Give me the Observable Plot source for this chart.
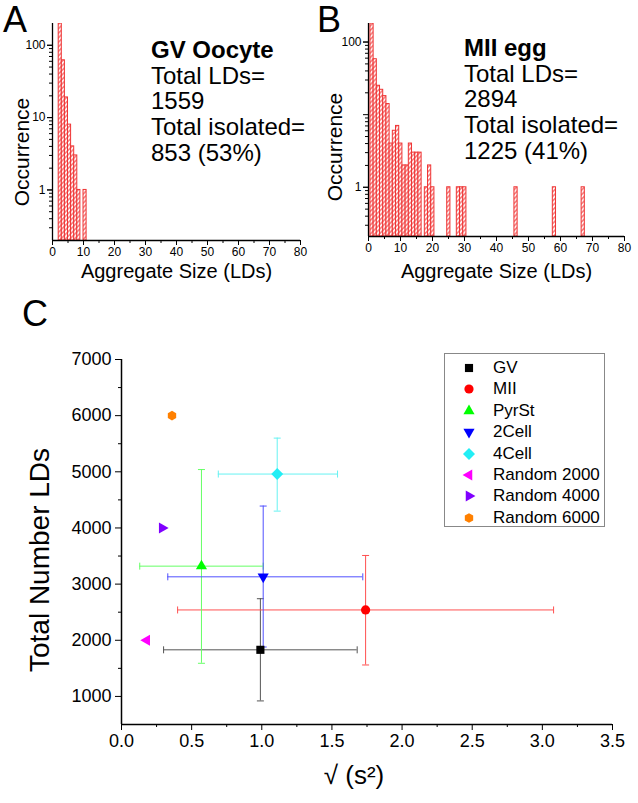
<!DOCTYPE html>
<html><head><meta charset="utf-8">
<script src="https://cdn.jsdelivr.net/npm/d3@7"></script>
<script src="https://cdn.jsdelivr.net/npm/@observablehq/plot@0.6"></script>
<style>
body{margin:0;background:#fff;font-family:"Liberation Sans",Arial,sans-serif;}
#root{position:relative;width:638px;height:803px;overflow:hidden;background:#fff;}
.letter{position:absolute;font-size:36px;line-height:1;color:#000;}
.note{position:absolute;font-size:24px;line-height:25.7px;color:#000;white-space:nowrap;}
.legend{position:absolute;border:1px solid #888;background:#fff;box-sizing:border-box;}
.legend .row{position:absolute;left:0;height:20px;display:flex;align-items:center;font-size:17px;white-space:nowrap;}
</style></head><body><div id="root"></div>
<script>
// ---------- data ----------
// Panel A: GV oocyte aggregate-size histogram
const gvSizes  = [2, 3, 4, 5, 6, 7, 8, 10];
const gvCounts = [200, 62, 19, 8, 4, 3, 1, 1];
// Panel B: MII egg aggregate-size histogram
const miiSizes  = [2, 3, 4, 5, 6, 7, 8, 9, 10, 11, 12, 13, 14, 15, 16, 17, 19, 20, 21, 26, 29, 30, 31, 47, 59, 68];
const miiCounts = [180, 58, 25, 22, 18, 14, 4, 6, 7, 4, 2, 2, 4, 3, 3, 3, 1, 2, 1, 1, 1, 1, 1, 1, 1, 1];
const histXTicks = [0, 10, 20, 30, 40, 50, 60, 70, 80];
const histXMinor = [5, 15, 25, 35, 45, 55, 65, 75];
const histYTicks = [1, 10, 100];
const histYLabelsA = [1, 10, 100];
const histYLabelsB = [1, 100];
const histYMinor = [0.3,0.4,0.5,0.6,0.7,0.8,0.9,2,3,4,5,6,7,8,9,20,30,40,50,60,70,80,90];

// Panel C: total LDs vs sqrt(s^2)
const groups = ["GV", "MII", "PyrSt", "2Cell", "4Cell", "Random 2000", "Random 4000", "Random 6000"];
const xMean  = [0.99, 1.74, 0.57, 1.01, 1.11, 0.18, 0.29, 0.36];
const yMean  = [1830, 2540, 3320, 3130, 4960, 2000, 4000, 6000];
const xLow   = [0.30, 0.40, 0.13, 0.33, 0.69, null, null, null];
const xHigh  = [1.68, 3.08, 1.01, 1.72, 1.54, null, null, null];
const yLow   = [920, 1560, 1590, 1880, 4300, null, null, null];
const yHigh  = [2740, 3510, 5040, 4390, 5600, null, null, null];
const cXTicks = [0, 0.5, 1, 1.5, 2, 2.5, 3, 3.5];
const cXMinor = [0.25, 0.75, 1.25, 1.75, 2.25, 2.75, 3.25];
const cYTicks = [1000, 2000, 3000, 4000, 5000, 6000, 7000];
const cYMinor = [1500, 2500, 3500, 4500, 5500, 6500];

// ---------- styles ----------
const FONT = '"Liberation Sans", Arial, sans-serif';
const colors   = ["#000000", "#ff0000", "#00ff00", "#0000ff", "#22eef5", "#ff00ff", "#8000ff", "#ff8000"];
const errColor = ["#555555", "#ff5050", "#66ff66", "#5050ff", "#66f2f2", null, null, null];

function poly(n, rot, scale) {
  return {draw(ctx, size) {
    const r = Math.sqrt(size / Math.PI) * scale;
    for (let k = 0; k < n; k++) {
      const a = rot + 2 * Math.PI * k / n;
      const x = r * Math.cos(a), y = r * Math.sin(a);
      if (k) ctx.lineTo(x, y); else ctx.moveTo(x, y);
    }
    ctx.closePath();
  }};
}
const circleSym = {draw(ctx, size) { const r = Math.sqrt(size / Math.PI); ctx.moveTo(r, 0); ctx.arc(0, 0, r, 0, 2 * Math.PI); }};
const symbols = [
  poly(4, Math.PI / 4, 1.25),   // square
  circleSym,                    // circle
  poly(3, -Math.PI / 2, 1.4),   // triangle up
  poly(3, Math.PI / 2, 1.4),    // triangle down
  poly(4, 0, 1.3),              // diamond
  poly(3, Math.PI, 1.4),        // triangle left
  poly(3, 0, 1.4),              // triangle right
  poly(6, Math.PI / 2, 1.05)    // hexagon
];
const hCap = {draw(ctx, size) { const r = Math.sqrt(size / Math.PI); ctx.moveTo(-r, 0); ctx.lineTo(r, 0); }};
const vCap = {draw(ctx, size) { const r = Math.sqrt(size / Math.PI); ctx.moveTo(0, -r); ctx.lineTo(0, r); }};

const root = document.getElementById("root");
function place(el, left, top) { el.style.position = "absolute"; el.style.left = left + "px"; el.style.top = top + "px"; root.appendChild(el); return el; }
function addHatch(svg, id) {
  const ns = "http://www.w3.org/2000/svg";
  const defs = document.createElementNS(ns, "defs");
  defs.innerHTML = `<pattern id="${id}" patternUnits="userSpaceOnUse" width="3.2" height="3.2" patternTransform="rotate(45)"><rect width="3.2" height="3.2" fill="#fff2f2"/><line x1="0.8" y1="0" x2="0.8" y2="3.2" stroke="#f36a6a" stroke-width="1.3"/></pattern>`;
  svg.insertBefore(defs, svg.firstChild);
}

function histogram({sizes, counts, bin, yDomain, yLabels, width, height, margin, id, yTitle, xTitle}) {
  const rows = sizes.map((s, i) => ({size: s, count: counts[i]}));
  const svg = Plot.plot({
    width, height, ...margin,
    style: {fontFamily: FONT, fontSize: "12px", color: "#000", background: "transparent", overflow: "visible"},
    x: {domain: [0, 80]},
    y: {type: "log", domain: yDomain},
    marks: [
      Plot.rectY(rows, {x1: d => d.size + bin[0], x2: d => d.size + bin[1], y1: () => yDomain[0], y2: "count",
        fill: `url(#${id})`, stroke: "#ef3434", strokeWidth: 1, clip: true}),
      Plot.ruleX([0], {stroke: "#000", strokeWidth: 1.3}),
      Plot.ruleY([yDomain[0]], {stroke: "#000", strokeWidth: 1.3}),
      Plot.axisX(histXTicks, {tickSize: 5, tickPadding: 2, fontSize: 12, label: null, tickFormat: d => String(d)}),
      Plot.axisX(histXMinor, {tickSize: 3, text: null, label: null}),
      Plot.axisY(histYTicks, {tickSize: 5, text: null, label: null}),
      Plot.axisY(yLabels, {tickSize: 5, tickPadding: 2, fontSize: 12, label: null, tickFormat: d => String(d)}),
      Plot.axisY(histYMinor, {tickSize: 3, text: null, label: null}),
      Plot.text([yTitle.text], {frameAnchor: "left", textAnchor: "middle", lineAnchor: "middle", rotate: -90, dx: yTitle.dx, dy: yTitle.dy, fontSize: 21}),
      Plot.text([xTitle.text], {frameAnchor: "bottom", textAnchor: "middle", lineAnchor: "middle", dx: xTitle.dx, dy: xTitle.dy, fontSize: 20})
    ]
  });
  addHatch(svg, id);
  return svg;
}

// Panel A
place(histogram({
  sizes: gvSizes, counts: gvCounts, bin: [0, 1], yDomain: [0.2, 200], yLabels: histYLabelsA, width: 318, height: 290,
  margin: {marginLeft: 52, marginRight: 18, marginTop: 23, marginBottom: 50}, id: "hatchA",
  yTitle: {text: "Occurrence", dx: -30, dy: 20}, xTitle: {text: "Aggregate Size (LDs)", dx: 0, dy: 31}
}), 0, 0);
// Panel B
place(histogram({
  sizes: miiSizes, counts: miiCounts, bin: [-1.4, -0.4], yDomain: [0.21, 180], yLabels: histYLabelsB, width: 320, height: 290,
  margin: {marginLeft: 50, marginRight: 14, marginTop: 23, marginBottom: 54}, id: "hatchB",
  yTitle: {text: "Occurrence", dx: -33, dy: 17}, xTitle: {text: "Aggregate Size (LDs)", dx: 0, dy: 35}
}), 318, 0);

// Panel letters & notes
function textDiv(cls, html, left, top) { const d = document.createElement("div"); d.className = cls; d.innerHTML = html; d.style.left = left + "px"; d.style.top = top + "px"; root.appendChild(d); return d; }
textDiv("letter", "A", 3, 2);
textDiv("letter", "B", 317, 2);
textDiv("letter", "C", 22, 296);
textDiv("note", "<b>GV Oocyte</b><br>Total LDs=<br>1559<br>Total isolated=<br>853 (53%)", 151, 37);
textDiv("note", "<b>MII egg</b><br>Total LDs=<br>2894<br>Total isolated=<br>1225 (41%)", 464, 35);

// Panel C
const idx = groups.map((g, i) => i);
const withErr = idx.filter(i => xLow[i] != null);
const cMarks = [
  Plot.ruleX([0], {stroke: "#000", strokeWidth: 1.5}),
  Plot.ruleY([500], {stroke: "#000", strokeWidth: 1.5}),
  Plot.axisX(cXTicks, {tickSize: 6, tickPadding: 4, fontSize: 18, label: null, tickFormat: d3.format(".1f")}),
  Plot.axisX(cXMinor, {tickSize: 3, text: null, label: null}),
  Plot.axisY(cYTicks, {tickSize: 6, tickPadding: 4, fontSize: 18, label: null, tickFormat: d => String(d)}),
  Plot.axisY(cYMinor, {tickSize: 3, text: null, label: null}),
  Plot.text(["Total Number LDs"], {frameAnchor: "left", textAnchor: "middle", lineAnchor: "middle", rotate: -90, dx: -81, dy: 18, fontSize: 28}),
  Plot.text(["√ (s²)"], {frameAnchor: "bottom", textAnchor: "middle", lineAnchor: "middle", dx: -13, dy: 51, fontSize: 26})
];
for (const i of withErr) {
  const st = {stroke: errColor[i], strokeWidth: 1};
  cMarks.push(
    Plot.ruleY([i], {y: k => yMean[k], x1: k => xLow[k], x2: k => xHigh[k], ...st}),
    Plot.ruleX([i], {x: k => xMean[k], y1: k => yLow[k], y2: k => yHigh[k], ...st}),
    Plot.dot([i, i], {x: (k, j) => j ? xHigh[k] : xLow[k], y: k => yMean[k], symbol: vCap, r: 3.5, fill: "none", ...st}),
    Plot.dot([i, i], {x: k => xMean[k], y: (k, j) => j ? yHigh[k] : yLow[k], symbol: hCap, r: 3.5, fill: "none", ...st})
  );
}
for (const i of idx) {
  cMarks.push(Plot.dot([i], {x: k => xMean[k], y: k => yMean[k], symbol: symbols[i], r: 4.6, fill: colors[i], stroke: "none"}));
}
const cSvg = Plot.plot({
  width: 638, height: 513, marginLeft: 121, marginRight: 26, marginTop: 69, marginBottom: 79,
  style: {fontFamily: FONT, fontSize: "18px", color: "#000", background: "transparent", overflow: "visible"},
  x: {domain: [0, 3.5]},
  y: {domain: [500, 7000]},
  marks: cMarks
});
place(cSvg, 0, 290);

// Legend for panel C
const leg = document.createElement("div");
leg.className = "legend";
leg.style.width = "161px"; leg.style.height = "174px";
place(leg, 444, 353);
groups.forEach((g, i) => {
  const row = document.createElement("div");
  row.className = "row";
  row.style.top = (3.7 + 21.45 * i) + "px";
  const s = d3.create("svg").attr("width", 48).attr("height", 20);
  const p = d3.path(); symbols[i].draw(p, Math.PI * 4.6 * 4.6);
  s.append("path").attr("d", p.toString()).attr("transform", "translate(24,10)").attr("fill", colors[i]);
  row.appendChild(s.node());
  const t = document.createElement("span"); t.textContent = g; row.appendChild(t);
  leg.appendChild(row);
});
</script></body></html>
